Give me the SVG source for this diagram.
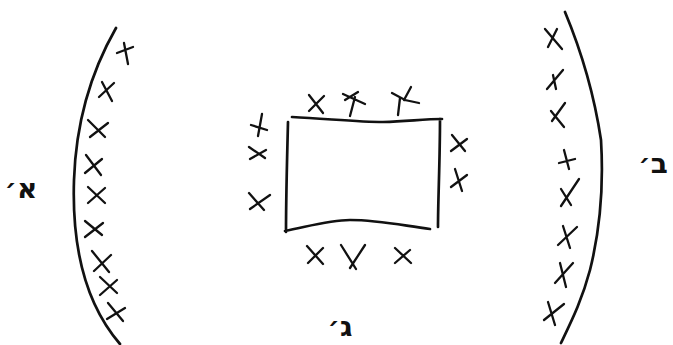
<svg xmlns="http://www.w3.org/2000/svg" width="673" height="345" viewBox="0 0 673 345">
<style>
.ln{fill:none;stroke:#111;stroke-width:2.7;stroke-linecap:round;stroke-linejoin:round}
.x{fill:none;stroke:#111;stroke-width:2.3;stroke-linecap:round}
.lb{font-family:"DejaVu Sans","Noto Sans",sans-serif;font-size:28px;font-weight:bold;fill:#111}
</style>
<rect width="673" height="345" fill="#fff"/>
<g id="left-group">
<path class="ln" d="M116,28 C92,70 76,120 74,180 C72,240 82,300 120,344"/>
<g class="x">
<path d="M117,53 L133,47 M124,43 L128,64"/>
<path d="M99,97 L114,83 M102,82 L112,101"/>
<path d="M88,120 L105,137 M90,137 L108,123"/>
<path d="M86,155 L101,175 M85,173 L102,159"/>
<path d="M88,187 L105,203 M88,203 L105,188"/>
<path d="M85,221 L102,235 M85,237 L103,223"/>
<path d="M92,251 L109,272 M94,271 L111,255"/>
<path d="M100,277 L117,293 M100,295 L117,280"/>
<path d="M108,303 L123,321 M107,319 L125,308"/>
</g>
</g>
<g id="right-group">
<path class="ln" d="M565,12 C585,60 595,100 601,140 C604,190 600,230 590,270 C582,300 572,320 561,343"/>
<g class="x">
<path d="M545,29 L562,49 M548,47 L557,29"/>
<path d="M547,89 L563,70 M553,75 L556,89"/>
<path d="M552,121 L565,103 M551,111 L564,127"/>
<path d="M559,163 L575,159 M564,150 L569,169"/>
<path d="M561,206 L579,179 M561,189 L571,205"/>
<path d="M558,245 L577,227 M563,226 L570,248"/>
<path d="M555,283 L573,263 M560,263 L566,287"/>
<path d="M544,320 L564,304 M548,302 L555,325"/>
</g>
</g>
<g id="rectangle-group">
<path class="ln" d="M292,117 C330,119 360,122 383,122 C410,121 425,119 442,119 M440,119 C440,160 438,200 438,227 M288,122 C287,160 286,200 286,232 M285,231 C310,226 330,220 350,220 C380,220 405,226 430,229"/>
<g class="x">
<path d="M309,95 L323,113 M309,111 L324,96"/>
<path d="M345,100 L358,92 M343,94 L365,104 M355,97 L350,116"/>
<path d="M392,93 L405,100 L419,103 M400,98 L398,115 M411,87 L404,100"/>
<path d="M251,125 L267,130 M262,114 L258,136"/>
<path d="M249,147 L265,158 M250,159 L266,150"/>
<path d="M249,193 L264,210 M250,209 L270,195"/>
<path d="M452,135 L465,151 M451,151 L467,139"/>
<path d="M455,169 L462,191 M451,187 L467,175"/>
<path d="M307,246 L323,264 M308,263 L323,248"/>
<path d="M341,245 L356,269 M350,268 L365,245"/>
<path d="M395,248 L411,263 M395,263 L410,250"/>
</g>
</g>
<g id="labels">
<text class="lb" x="21" y="198" text-anchor="middle" direction="rtl">א׳</text>
<text class="lb" x="653" y="173" text-anchor="middle" direction="rtl">ב׳</text>
<text class="lb" x="340" y="336" text-anchor="middle" direction="rtl">ג׳</text>
</g>
</svg>
